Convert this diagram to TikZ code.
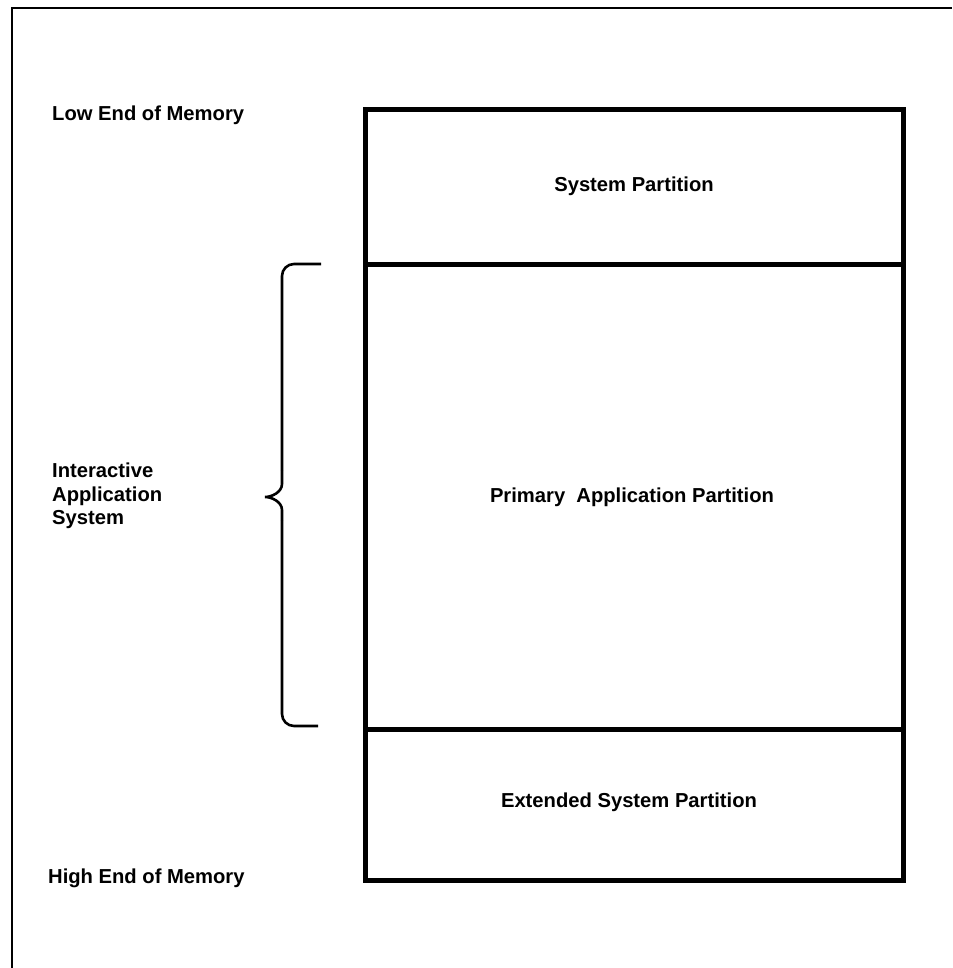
\documentclass[tikz,border=0pt]{standalone}
\usepackage{fontspec}
\setmainfont{Liberation Sans}
\begin{document}
\begin{tikzpicture}[x=1pt,y=-1pt,
  lbl/.style={font=\bfseries\fontsize{20.2}{23.5}\selectfont, inner sep=0pt},
  part/.style={line width=5pt},
  frame/.style={line width=1.6pt},
  bracestyle/.style={line width=2.6pt, rounded corners=12pt}]
\useasboundingbox (0,0) rectangle (952,968);
% outer frame (top and left only)
\draw[frame] (12,968) -- (12,8) -- (952,8);
% memory box
\coordinate (tl) at (365,110);
\coordinate (br) at (903,880);
\draw[part] (tl) rectangle (br);
\draw[part] (365,264) -- (903,264);
\draw[part] (365,729) -- (903,729);
% partition labels
\node[lbl] (sys) at (634,186) {System Partition};
\node[lbl] (pri) at (632,497) {Primary\ \ Application Partition};
\node[lbl] (ext) at (629,802) {Extended System Partition};
% left labels
\node[lbl, anchor=west] (low) at (52,115) {Low End of Memory};
\node[lbl, anchor=west] (high) at (48,878) {High End of Memory};
\node[lbl, anchor=west, align=left] (ias) at (52,496) {Interactive\\Application\\System};
% brace
\draw[bracestyle] (321,264) -- (282,264) -- (282,470);
\draw[line width=2.6pt] (282,470) -- (282,484) .. controls (282,492) and (272,497) .. (265,497)
  .. controls (272,497) and (282,502) .. (282,510) -- (282,520);
\draw[bracestyle] (282,520) -- (282,726) -- (318,726);
\end{tikzpicture}
\end{document}
